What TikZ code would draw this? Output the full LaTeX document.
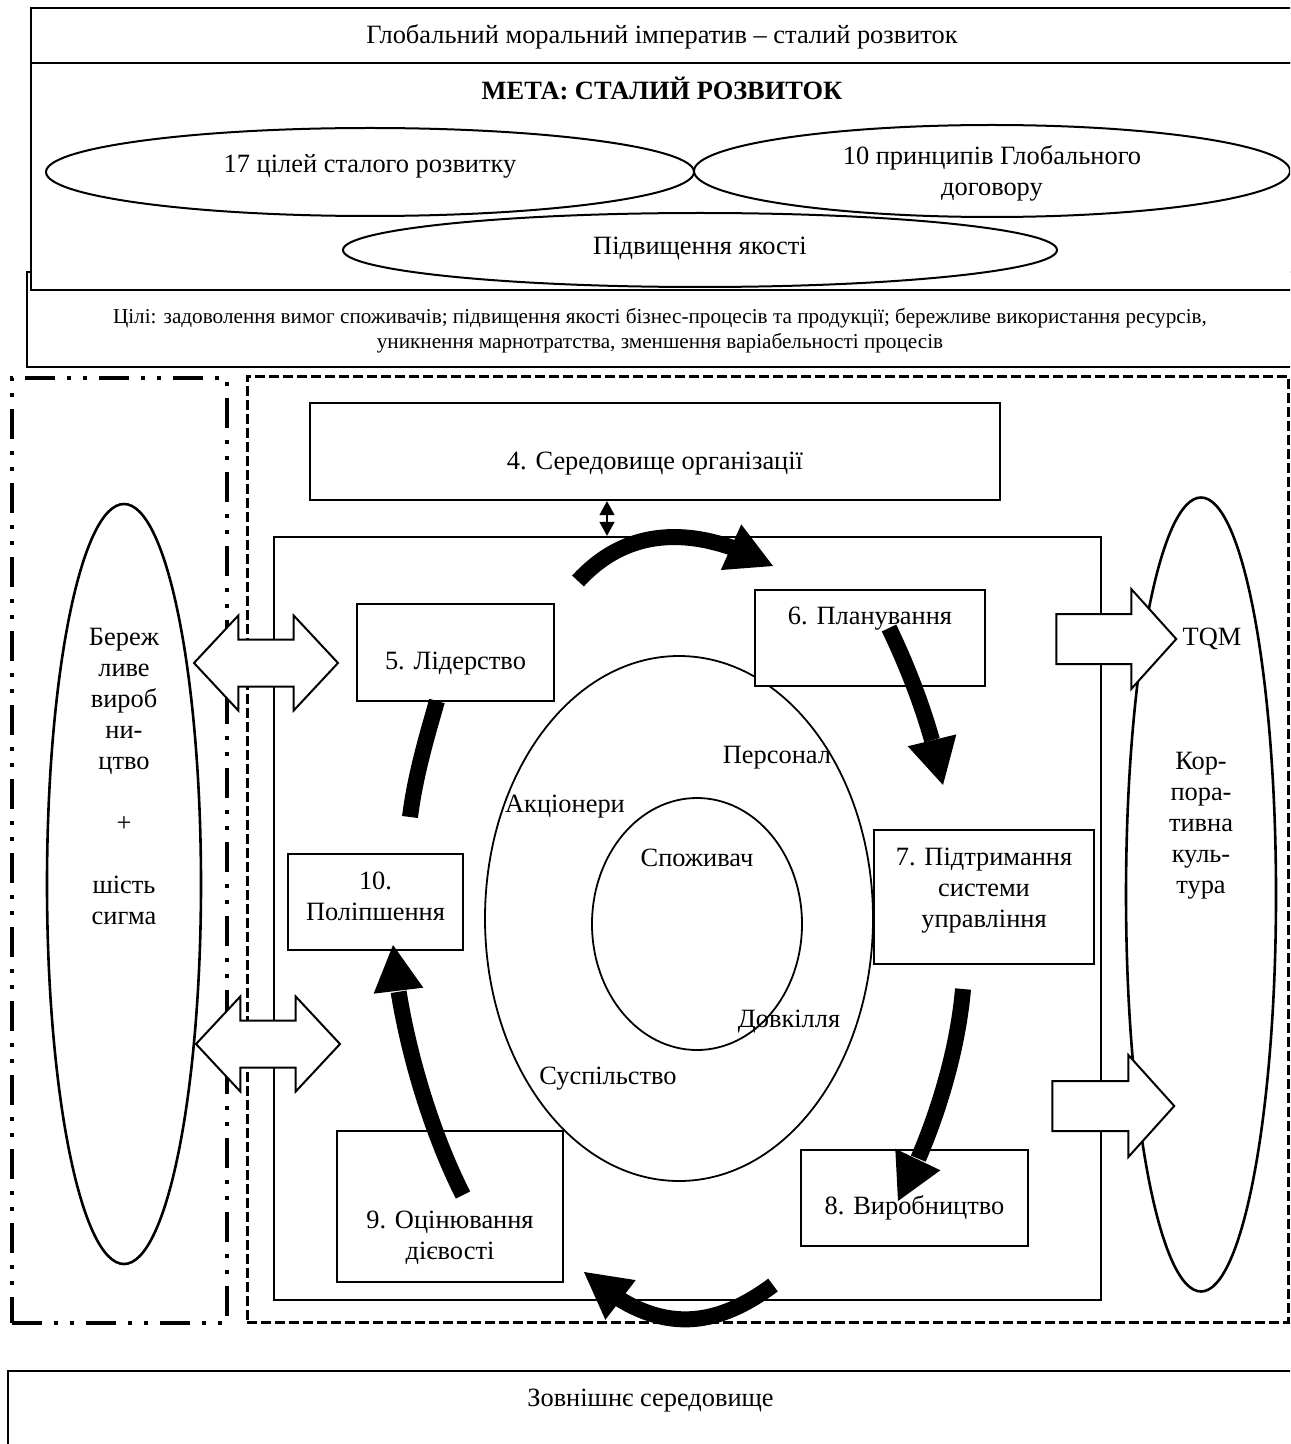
\documentclass[tikz,border=0pt]{standalone}
\usepackage{fontspec}
\setmainfont{Liberation Serif}
\usetikzlibrary{shapes.geometric,shapes.arrows,arrows.meta,bending}
\newlength{\pxu}\setlength{\pxu}{0.5pt}
\newcommand{\tb}[2]{\raisebox{\dimexpr -#1\pxu-0.25em\relax}[0pt][0pt]{\begin{tabular}{@{}c@{}}#2\end{tabular}}}
\newcommand{\fmain}{\fontsize{13.2pt}{15.5pt}\selectfont}
\newcommand{\fsmall}{\fontsize{10.6pt}{12.5pt}\selectfont}
\tikzset{
  bx/.style={draw, rectangle, line width=1.15pt, fill=white, inner sep=0pt, font=\fmain},
  el/.style={draw, ellipse, line width=1pt, inner sep=0pt, font=\fmain},
  lbl/.style={inner sep=0pt, font=\fmain},
  blk/.style={draw, fill=white, line width=1pt, inner xsep=0pt},
  ddframe/.style={draw, rectangle, line width=1.6pt, dash pattern=on 15pt off 6pt on 2pt off 6pt on 2pt off 6pt},
  dframe/.style={draw, rectangle, line width=1.5pt, dash pattern=on 5pt off 2pt},
  cyc/.style={line width=8pt, -{Triangle[length=23pt,width=25pt,line width=0pt,flex]}},
  stub/.style={line width=8pt},
  link/.style={line width=0.7pt, {Triangle[length=7pt,width=7.5pt]}-{Triangle[length=7pt,width=7.5pt]}}
}
\begin{document}
\begin{tikzpicture}[x=0.5pt,y=-0.5pt]
\useasboundingbox (0,0) rectangle (1290,1444);
\clip (0,0) rectangle (1290,1444);

% goals box (behind top box)
\node[bx, font=\fsmall, minimum width=633pt, minimum height=47.5pt] (goals) at (660,319.5)
  {\tb{12}{Цілі: задоволення вимог споживачів; підвищення якості бізнес-процесів та продукції; бережливе використання ресурсів,\\уникнення марнотратства, зменшення варіабельності процесів}};

% top boxes
\node[bx, minimum width=631pt, minimum height=27.5pt] (imper) at (662,35.5)
  {\tb{1.5}{Глобальний моральний імператив – сталий розвиток}};
\node[bx, minimum width=631pt, minimum height=113.5pt] (goal) at (662,176.5)
  {\tb{-84.5}{\textbf{МЕТА: СТАЛИЙ РОЗВИТОК}}};

\node[el, minimum width=324pt, minimum height=44pt] (sdg) at (370,172) {\tb{-6}{17 цілей сталого розвитку}};
\node[el, minimum width=298pt, minimum height=46pt] (gc) at (992,171) {\tb{2.5}{10 принципів Глобального\\договору}};
\node[el, minimum width=357pt, minimum height=37pt] (qual) at (700,250) {\tb{-2}{Підвищення якості}};

% external environment
\node[bx, minimum width=642.5pt, minimum height=54.5pt] (ext) at (650.5,1425.5) {\tb{-25.5}{Зовнішнє середовище}};

% frames
\node[ddframe, minimum width=107.5pt, minimum height=472.5pt] (leanframe) at (119.5,850.5) {};
\node[dframe, minimum width=520.5pt, minimum height=473pt] (qmsframe) at (767.5,849) {};

% organisation
\node[bx, minimum width=345pt, minimum height=48.5pt] (env) at (655,451.5) {\tb{11.5}{4. Середовище організації}};
\node[bx, minimum width=413.5pt, minimum height=381.5pt] (org) at (687.5,918.5) {};

% side ellipses
\node[el, line width=1.3pt, minimum width=77pt, minimum height=380pt] (lean) at (124,884)
  {\tb{-105.5}{Береж\\ливе\\вироб\\ни-\\цтво\\ \\+\\ \\шість\\сигма}};
\node[el, line width=1.3pt, minimum width=75pt, minimum height=397pt] (tqm) at (1201,894.5)
  {\tb{-131.5}{\hspace*{11pt}TQM\\ \\ \\ \\Кор-\\пора-\\тивна\\куль-\\тура}};

% stakeholder ellipses
\node[el, line width=0.9pt, minimum width=194pt, minimum height=262.5pt] (stake) at (679,918.5) {};
\node[el, line width=0.9pt, minimum width=105pt, minimum height=126pt] (cust) at (697,924) {};

% process boxes
\node[bx, minimum width=98.5pt, minimum height=48.5pt] (lead) at (455.5,652.5) {\tb{10.5}{5. Лідерство}};
\node[bx, minimum width=115pt, minimum height=48pt] (plan) at (870,638) {\tb{-20}{6. Планування}};
\node[bx, minimum width=110pt, minimum height=67pt] (supp) at (984,897) {\tb{-7.5}{7. Підтримання\\системи\\управління}};
\node[bx, minimum width=113.5pt, minimum height=48pt] (prod) at (914.5,1198) {\tb{10}{8. Виробництво}};
\node[bx, minimum width=113pt, minimum height=75.5pt] (eval) at (450,1206.5) {\tb{30.5}{9. Оцінювання\\дієвості}};
\node[bx, minimum width=87.5pt, minimum height=48pt] (impr) at (375.5,902) {\tb{-4}{10.\\Поліпшення}};

% stakeholder labels
\node[lbl] (lpers) at (777,757) {\tb{0}{Персонал}};
\node[lbl] (lshare) at (565,806) {\tb{0}{Акціонери}};
\node[lbl] (lcons) at (697,860) {\tb{0}{Споживач}};
\node[lbl] (lenv) at (789,1021) {\tb{0}{Довкілля}};
\node[lbl] (lsoc) at (608,1078) {\tb{0}{Суспільство}};

% block arrows
\node[blk, double arrow, inner ysep=11.25pt, minimum height=72pt, minimum width=46.5pt, double arrow head extend=12pt, double arrow tip angle=94] (dA1) at (266,663) {};
\node[blk, double arrow, inner ysep=11.25pt, minimum height=72pt, minimum width=46.5pt, double arrow head extend=12pt, double arrow tip angle=94] (dA2) at (268,1044) {};
\node[blk, single arrow, inner ysep=12pt, minimum height=60pt, minimum width=49pt, single arrow head extend=12.5pt, single arrow tip angle=96] (sA1) at (1105,639) {};
\node[blk, single arrow, inner ysep=12pt, minimum height=61pt, minimum width=50pt, single arrow head extend=13pt, single arrow tip angle=96] (sA2) at (1102,1106) {};

% cycle arrows
\coordinate (aS) at (578,581);  \coordinate (aT) at (773,566);
\coordinate (bS) at (889,628);  \coordinate (bT) at (943,785);
\coordinate (cS) at (963,989);  \coordinate (cT) at (898,1201);
\coordinate (dS) at (773,1285); \coordinate (dT) at (584,1272);
\coordinate (eS) at (463,1195); \coordinate (eT) at (393,945);
\coordinate (fS) at (410,817);  \coordinate (fT) at (437,701);
\draw[cyc] (aS) .. controls (632,522) and (703,528) .. (aT);
\draw[cyc] (bS) .. controls (913,678) and (932,731) .. (bT);
\draw[cyc] (cS) .. controls (957,1059) and (931,1139) .. (cT);
\draw[cyc] (dS) .. controls (705,1336) and (647,1329) .. (dT);
\draw[cyc] (eS) .. controls (427,1124) and (399,1025) .. (eT);
\draw[stub] (fS) .. controls (415,777) and (426,739) .. (fT);

% link between environment and organisation
\coordinate (lx) at (607,0);
\draw[link] (env.south -| lx) -- (org.north -| lx);
\end{tikzpicture}
\end{document}
